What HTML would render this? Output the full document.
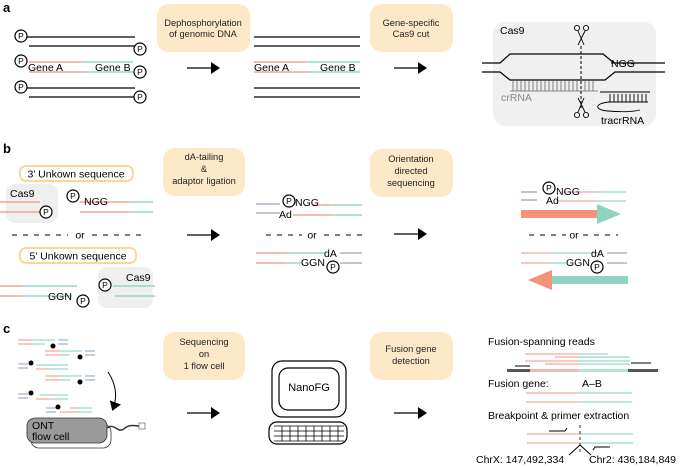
<!DOCTYPE html>
<html><head><meta charset="utf-8"><style>
html,body{margin:0;padding:0;background:#fff;}
svg{display:block;font-family:"Liberation Sans",sans-serif;}
</style></head><body>
<svg width="685" height="468" viewBox="0 0 685 468" xmlns="http://www.w3.org/2000/svg">
<defs>
<g id="P"><circle cx="0" cy="0" r="6" fill="#fff" stroke="#000" stroke-width="1.2"/><text x="0" y="3.2" font-size="8.5" text-anchor="middle">P</text></g>
<marker id="ah" markerWidth="10" markerHeight="12" refX="7" refY="6" orient="auto" markerUnits="userSpaceOnUse"><path d="M0,0 L9,6 L0,12 Z" fill="#000"/></marker>
</defs>
<g font-weight="bold" font-size="13"><text x="3" y="12">a</text><text x="3" y="153">b</text><text x="3" y="333">c</text></g>

<!-- Boxes -->
<g fill="#fde9c8">
<rect x="157" y="4" width="93" height="48" rx="12"/>
<rect x="370" y="4" width="83" height="48" rx="12"/>
<rect x="163" y="148" width="82" height="48" rx="12"/>
<rect x="370" y="149" width="83" height="48" rx="12"/>
<rect x="163" y="332" width="82" height="48" rx="12"/>
<rect x="370" y="332" width="83" height="48" rx="12"/>
</g>
<g font-size="9.3" text-anchor="middle" fill="#222">
<text x="203" y="26">Dephosphorylation</text><text x="203" y="37">of genomic DNA</text>
<text x="411" y="26">Gene-specific</text><text x="411" y="37">Cas9 cut</text>
<text x="204" y="160">dA-tailing</text><text x="204" y="172">&amp;</text><text x="204" y="184">adaptor ligation</text>
<text x="411" y="162">Orientation</text><text x="411" y="174">directed</text><text x="411" y="186">sequencing</text>
<text x="204" y="345">Sequencing</text><text x="204" y="357">on</text><text x="204" y="369">1 flow cell</text>
<text x="411" y="352">Fusion gene</text><text x="411" y="364">detection</text>
</g>

<!-- Arrows -->
<g stroke="#000" stroke-width="1.3" marker-end="url(#ah)">
<line x1="187" y1="68" x2="218" y2="68"/><line x1="394" y1="68" x2="425" y2="68"/>
<line x1="187" y1="235" x2="218" y2="235"/><line x1="394" y1="234" x2="425" y2="234"/>
<line x1="187" y1="413" x2="218" y2="413"/><line x1="394" y1="413" x2="425" y2="413"/>
</g>

<!-- Panel a left -->
<g stroke="#000" stroke-width="1.2">
<line x1="26" y1="37" x2="135" y2="37"/><line x1="29" y1="46" x2="135" y2="46"/>
<line x1="26" y1="88" x2="135" y2="88"/><line x1="29" y1="97" x2="135" y2="97"/>
<line x1="254" y1="37" x2="360" y2="37"/><line x1="254" y1="46" x2="360" y2="46"/>
<line x1="254" y1="88" x2="360" y2="88"/><line x1="254" y1="97" x2="360" y2="97"/>
</g>
<g stroke-width="1.2">
<line x1="29" y1="62" x2="82" y2="62" stroke="#f4937a"/><line x1="82" y1="62" x2="133" y2="62" stroke="#7fcfbd"/>
<line x1="29" y1="72" x2="82" y2="72" stroke="#f4937a"/><line x1="82" y1="72" x2="133" y2="72" stroke="#7fcfbd"/>
<line x1="254" y1="62" x2="307" y2="62" stroke="#f4937a"/><line x1="307" y1="62" x2="360" y2="62" stroke="#7fcfbd"/>
<line x1="254" y1="72" x2="307" y2="72" stroke="#f4937a"/><line x1="307" y1="72" x2="360" y2="72" stroke="#7fcfbd"/>
</g>
<g font-size="10.5">
<text x="28" y="71">Gene A</text><text x="95" y="71">Gene B</text>
<text x="254" y="71">Gene A</text><text x="320" y="71">Gene B</text>
</g>
<use href="#P" x="21" y="36"/><use href="#P" x="140" y="49"/>
<use href="#P" x="21" y="61"/><use href="#P" x="140" y="72"/>
<use href="#P" x="21" y="87"/><use href="#P" x="140" y="97"/>

<!-- Cas9 complex -->
<rect x="493" y="22" width="163" height="104" rx="12" fill="#f0f0f0"/>
<text x="500" y="34" font-size="10.5">Cas9</text>
<g fill="none" stroke="#000" stroke-width="1.2">
<path d="M482,63 H500 L510,54 H603 L614,63 H665"/>
<path d="M482,72 H500 L510,80 H605 L615,72 H665"/>
</g>
<text x="611" y="67" font-size="10.5">NGG</text>
<line x1="611" y1="63" x2="645" y2="63" stroke="#000" stroke-width="1"/>
<g stroke="#666" stroke-width="0.8">
<line x1="510" y1="91" x2="598" y2="91"/>
<path d="M513,81V91M517,81V91M521,81V91M525,81V91M529,81V91M533,81V91M537,81V91M541,81V91M545,81V91M549,81V91M553,81V91M557,81V91M561,81V91M565,81V91M569,81V91M573,81V91M577,81V91M585,81V91M589,81V91M593,81V91"/>
</g>
<text x="501" y="101" font-size="10.5" fill="#888">crRNA</text>
<g stroke="#000" stroke-width="0.9" fill="none">
<line x1="600" y1="92" x2="650" y2="92"/>
<line x1="608" y1="102" x2="648" y2="102"/>
<path d="M610,94V102M614,94V102M618,94V102M622,94V102M626,94V102M630,94V102M634,94V102M638,94V102M642,94V102M646,94V102"/>
<path d="M610,102 C594,103 594,110 608,111 C620,112 632,112 640,110"/>
</g>
<text x="601" y="124" font-size="10.5">tracrRNA</text>
<line x1="581" y1="46" x2="581" y2="108" stroke="#000" stroke-width="1" stroke-dasharray="3,2"/>
<g stroke="#000" stroke-width="0.9" fill="none">
<circle cx="577" cy="28" r="2.6"/><circle cx="586" cy="28" r="2.6"/>
<path d="M578,31 L584,45 M585,31 L578,45"/>
<circle cx="577" cy="115" r="2.6"/><circle cx="586" cy="115" r="2.6"/>
<path d="M578,112 L584,98 M585,112 L578,98"/>
</g>

<!-- Panel b left -->
<rect x="20" y="166" width="113" height="15" rx="6" fill="#fff" stroke="#f8d79a" stroke-width="2"/>
<text x="76" y="177.5" font-size="10.5" text-anchor="middle">3’ Unkown sequence</text>
<rect x="20" y="248" width="116" height="15" rx="6" fill="#fff" stroke="#f8d79a" stroke-width="2"/>
<text x="78" y="259.5" font-size="10.5" text-anchor="middle">5’ Unkown sequence</text>
<rect x="6" y="184" width="52" height="39" rx="9" fill="#efefef"/>
<rect x="98" y="267" width="55" height="41" rx="9" fill="#efefef"/>
<text x="10" y="197" font-size="10.5">Cas9</text><text x="126" y="281" font-size="10.5">Cas9</text>
<g stroke-width="1.2">
<line x1="0" y1="202" x2="40" y2="202" stroke="#f4937a"/><line x1="0" y1="212" x2="40" y2="212" stroke="#f4937a"/>
<line x1="80" y1="202" x2="130" y2="202" stroke="#f4937a"/><line x1="130" y1="202" x2="153" y2="202" stroke="#7fcfbd"/>
<line x1="80" y1="212" x2="130" y2="212" stroke="#f4937a"/><line x1="130" y1="212" x2="153" y2="212" stroke="#7fcfbd"/>
<line x1="0" y1="286" x2="23" y2="286" stroke="#f4937a"/><line x1="23" y1="286" x2="77" y2="286" stroke="#7fcfbd"/>
<line x1="0" y1="296" x2="23" y2="296" stroke="#f4937a"/><line x1="23" y1="296" x2="72" y2="296" stroke="#7fcfbd"/>
<line x1="113" y1="286" x2="155" y2="286" stroke="#7fcfbd"/><line x1="115" y1="296" x2="155" y2="296" stroke="#7fcfbd"/>
</g>
<use href="#P" x="46" y="212"/><use href="#P" x="73" y="196"/>
<text x="84" y="205" font-size="10.5">NGG</text>
<text x="48" y="300" font-size="10.5">GGN</text>
<use href="#P" x="83" y="301"/><use href="#P" x="105" y="285"/>
<g stroke="#000" stroke-width="1" stroke-dasharray="5,6"><line x1="12" y1="235" x2="68" y2="235"/><line x1="92" y1="235" x2="145" y2="235"/>
<line x1="266" y1="235" x2="302" y2="235"/><line x1="324" y1="235" x2="362" y2="235"/>
<line x1="529" y1="235" x2="566" y2="235"/><line x1="583" y1="235" x2="618" y2="235"/></g>
<text x="80" y="238.5" font-size="10.5" text-anchor="middle">or</text>
<text x="312" y="238.5" font-size="10.5" text-anchor="middle">or</text>
<text x="574" y="238.5" font-size="10.5" text-anchor="middle">or</text>

<!-- Panel b middle -->
<g stroke-width="1.6" stroke="#a9b3cc">
<line x1="256" y1="204" x2="280" y2="204"/><line x1="256" y1="213" x2="280" y2="213"/>
<line x1="340" y1="253" x2="362" y2="253"/><line x1="340" y1="263" x2="362" y2="263"/>
<line x1="521" y1="192" x2="537" y2="192"/><line x1="521" y1="200" x2="537" y2="200"/>
<line x1="607" y1="253" x2="627" y2="253"/><line x1="607" y1="263" x2="627" y2="263"/>
</g>
<g stroke-width="1.2">
<line x1="313" y1="205" x2="332" y2="205" stroke="#f4937a"/><line x1="332" y1="205" x2="362" y2="205" stroke="#7fcfbd"/>
<line x1="293" y1="215" x2="332" y2="215" stroke="#f4937a"/><line x1="332" y1="215" x2="362" y2="215" stroke="#7fcfbd"/>
<line x1="256" y1="253" x2="286" y2="253" stroke="#f4937a"/><line x1="286" y1="253" x2="325" y2="253" stroke="#7fcfbd"/>
<line x1="256" y1="263" x2="286" y2="263" stroke="#f4937a"/><line x1="286" y1="263" x2="302" y2="263" stroke="#7fcfbd"/>
</g>
<use href="#P" x="289" y="201"/>
<text x="295" y="206" font-size="10.5">NGG</text><text x="279" y="218" font-size="10.5">Ad</text>
<text x="324" y="257" font-size="10.5">dA</text><text x="301" y="266" font-size="10.5">GGN</text>
<use href="#P" x="333" y="267"/>

<!-- Panel b right -->
<g stroke-width="1.1">
<line x1="562" y1="192" x2="595" y2="192" stroke="#f4937a"/><line x1="595" y1="192" x2="626" y2="192" stroke="#7fcfbd"/>
<line x1="556" y1="201" x2="595" y2="201" stroke="#f4937a"/><line x1="595" y1="201" x2="626" y2="201" stroke="#7fcfbd"/>
<line x1="521" y1="253" x2="551" y2="253" stroke="#f4937a"/><line x1="551" y1="253" x2="600" y2="253" stroke="#7fcfbd"/>
<line x1="521" y1="263" x2="551" y2="263" stroke="#f4937a"/><line x1="551" y1="263" x2="566" y2="263" stroke="#7fcfbd"/>
</g>
<use href="#P" x="549" y="188"/>
<text x="556" y="195" font-size="10.5">NGG</text><text x="546" y="204" font-size="10.5">Ad</text>
<text x="591" y="257" font-size="10.5">dA</text><text x="566" y="266" font-size="10.5">GGN</text>
<use href="#P" x="597" y="267"/>
<rect x="521" y="210" width="77" height="8" fill="#f4937a"/>
<rect x="597" y="210" width="15" height="8" fill="#8fd3c2"/>
<path d="M597,204 L621,214 L597,224 Z" fill="#8fd3c2"/>
<rect x="552" y="276" width="76" height="8" fill="#8fd3c2"/>
<path d="M552,270 L528,280 L552,290 Z" fill="#f4937a"/>

<!-- Panel c tiny reads -->
<g stroke-width="1">
<g stroke="#f4937a"><line x1="18" y1="340" x2="32" y2="340"/><line x1="18" y1="344" x2="32" y2="344"/>
<line x1="45" y1="351" x2="60" y2="351"/><line x1="45" y1="355" x2="60" y2="355"/>
<line x1="36" y1="369" x2="50" y2="369"/>
<line x1="45" y1="376" x2="60" y2="376"/><line x1="45" y1="380" x2="60" y2="380"/>
<line x1="36" y1="399" x2="50" y2="399"/>
<line x1="70" y1="408" x2="75" y2="408"/><line x1="60" y1="412" x2="75" y2="412"/></g>
<g stroke="#7fcfbd"><line x1="32" y1="340" x2="55" y2="340"/><line x1="32" y1="344" x2="45" y2="344"/>
<line x1="60" y1="351" x2="82" y2="351"/><line x1="60" y1="355" x2="70" y2="355"/>
<line x1="50" y1="369" x2="68" y2="369"/><line x1="36" y1="365" x2="68" y2="365"/>
<line x1="60" y1="376" x2="82" y2="376"/><line x1="60" y1="380" x2="70" y2="380"/>
<line x1="40" y1="395" x2="68" y2="395"/><line x1="50" y1="399" x2="68" y2="399"/>
<line x1="75" y1="408" x2="92" y2="408"/><line x1="75" y1="412" x2="92" y2="412"/></g>
<g stroke="#a9b3cc" stroke-width="1.3"><line x1="58" y1="340" x2="68" y2="340"/><line x1="58" y1="344" x2="68" y2="344"/>
<line x1="85" y1="351" x2="95" y2="351"/><line x1="85" y1="355" x2="95" y2="355"/>
<line x1="18" y1="364" x2="28" y2="364"/><line x1="18" y1="368" x2="28" y2="368"/>
<line x1="85" y1="376" x2="95" y2="376"/><line x1="85" y1="380" x2="95" y2="380"/>
<line x1="18" y1="394" x2="28" y2="394"/><line x1="18" y1="398" x2="28" y2="398"/>
<line x1="46" y1="408" x2="56" y2="408"/><line x1="46" y1="412" x2="56" y2="412"/></g>
</g>
<g fill="#000"><circle cx="53" cy="346" r="2.5"/><circle cx="80" cy="357" r="2.5"/><circle cx="31" cy="363" r="2.5"/><circle cx="80" cy="382" r="2.5"/><circle cx="31" cy="393" r="2.5"/><circle cx="58" cy="407" r="2.5"/></g>
<path d="M108,372 Q120,390 113,409" fill="none" stroke="#000" stroke-width="1" marker-end="url(#ah)"/>
<!-- flow cell -->
<rect x="31" y="424" width="80" height="24" rx="8" fill="#fff" stroke="#333" stroke-width="0.8"/>
<rect x="27" y="418" width="80" height="25" rx="8" fill="#9a9a9a" stroke="#333" stroke-width="0.8"/>
<text x="32" y="429" font-size="10.5">ONT</text><text x="32" y="440" font-size="10.5">flow cell</text>
<path d="M107,428 C115,422 118,435 125,428 C130,424 135,426 140,426" fill="none" stroke="#333" stroke-width="1.5"/>
<rect x="139" y="423" width="6" height="6" fill="#fff" stroke="#666" stroke-width="0.7"/>
<!-- computer -->
<rect x="272" y="361" width="74" height="56" rx="10" fill="#fff" stroke="#000" stroke-width="1.2"/>
<rect x="279" y="368" width="60" height="42" rx="9" fill="#fff" stroke="#000" stroke-width="1.2"/>
<text x="309" y="391" font-size="11" text-anchor="middle">NanoFG</text>
<rect x="269" y="422" width="78" height="22" rx="8" fill="#fff" stroke="#000" stroke-width="1.2"/>
<g fill="none" stroke="#000" stroke-width="0.8">
<path d="M274,426h70M274,431h70M274,436h70M274,441h70"/>
<path d="M282,426v15M290,426v15M298,426v15M306,426v15M314,426v15M322,426v15M330,426v15M338,426v15"/>
</g>
<!-- fusion results -->
<g font-size="10.5">
<text x="488" y="345">Fusion-spanning reads</text>
<text x="488" y="387">Fusion gene:</text><text x="582" y="387">A–B</text>
<text x="488" y="419">Breakpoint &amp; primer extraction</text>
<text x="476" y="463">ChrX: 147,492,334</text><text x="589" y="463">Chr2: 436,184,849</text>
</g>
<g stroke-width="1.1">
<line x1="525" y1="354" x2="578" y2="354" stroke="#f4937a"/><line x1="578" y1="354" x2="608" y2="354" stroke="#7fcfbd"/>
<line x1="555" y1="357" x2="578" y2="357" stroke="#f4937a"/><line x1="578" y1="357" x2="630" y2="357" stroke="#7fcfbd"/>
<line x1="525" y1="361" x2="578" y2="361" stroke="#f4937a"/><line x1="578" y1="361" x2="630" y2="361" stroke="#7fcfbd"/>
<line x1="545" y1="364" x2="578" y2="364" stroke="#f4937a"/><line x1="578" y1="364" x2="630" y2="364" stroke="#7fcfbd"/>
<line x1="526" y1="393" x2="578" y2="393" stroke="#f4937a"/><line x1="578" y1="393" x2="632" y2="393" stroke="#7fcfbd"/>
<line x1="526" y1="402" x2="578" y2="402" stroke="#f4937a"/><line x1="578" y1="402" x2="632" y2="402" stroke="#7fcfbd"/>
<line x1="527" y1="434" x2="580" y2="434" stroke="#f4937a"/><line x1="580" y1="434" x2="633" y2="434" stroke="#7fcfbd"/>
<line x1="527" y1="443" x2="580" y2="443" stroke="#f4937a"/><line x1="580" y1="443" x2="633" y2="443" stroke="#7fcfbd"/>
</g>
<rect x="507" y="369" width="23" height="3" fill="#555"/>
<rect x="530" y="369" width="48" height="3" fill="#f6b9a6"/>
<rect x="578" y="369" width="50" height="3" fill="#b3e2d6"/>
<rect x="628" y="369" width="30" height="3" fill="#555"/>
<line x1="515" y1="366" x2="530" y2="366" stroke="#000" stroke-width="1"/>
<line x1="631" y1="363" x2="651" y2="363" stroke="#000" stroke-width="1"/>
<line x1="580" y1="425" x2="580" y2="455" stroke="#000" stroke-width="0.8" stroke-dasharray="3,3"/>
<g fill="none" stroke="#000" stroke-width="1">
<path d="M549,431 H565 L567,428"/>
<path d="M610,447 H595 L593,450"/>
<path d="M580,445 L569,455 M580,445 L591,455"/>
</g>
</svg>
</body></html>
